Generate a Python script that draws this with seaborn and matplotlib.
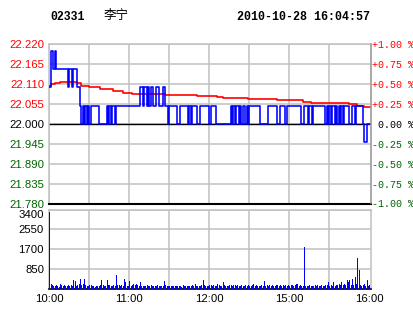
import matplotlib
matplotlib.use("Agg")
import matplotlib.pyplot as plt
import seaborn as sns
import pandas as pd

# ---------------- data ----------------
PREV_CLOSE = 22.00
title_code = "02331"
title_name = "李宁"
title_time = "2010-10-28 16:04:57"

price = [
    22.10, 22.20, 22.20, 22.15, 22.20, 22.15, 22.15, 22.15, 22.15, 22.15,
    22.15, 22.15, 22.15, 22.15, 22.10, 22.15, 22.15, 22.10, 22.15, 22.15,
    22.15, 22.10, 22.10, 22.05, 22.00, 22.05, 22.00, 22.05, 22.00, 22.05,
    22.00, 22.05, 22.05, 22.05, 22.05, 22.05, 22.05, 22.00, 22.00, 22.00,
    22.00, 22.00, 22.00, 22.05, 22.00, 22.05, 22.00, 22.05, 22.05, 22.00,
    22.05, 22.05, 22.05, 22.05, 22.05, 22.05, 22.05, 22.05, 22.05, 22.05,
    22.05, 22.05, 22.05, 22.05, 22.05, 22.05, 22.05, 22.05, 22.10, 22.10,
    22.05, 22.10, 22.10, 22.05, 22.10, 22.05, 22.10, 22.10, 22.05, 22.05,
    22.10, 22.10, 22.05, 22.05, 22.05, 22.10, 22.10, 22.05, 22.05, 22.00,
    22.05, 22.05, 22.05, 22.05, 22.05, 22.05, 22.00, 22.00, 22.05, 22.05,
    22.05, 22.05, 22.05, 22.05, 22.00, 22.05, 22.00, 22.05, 22.05, 22.05,
    22.05, 22.00, 22.00, 22.05, 22.05, 22.05, 22.05, 22.05, 22.05, 22.05,
    22.00, 22.05, 22.05, 22.05, 22.05, 22.00, 22.00, 22.00, 22.00, 22.00,
    22.00, 22.00, 22.00, 22.00, 22.00, 22.00, 22.05, 22.00, 22.05, 22.00,
    22.05, 22.05, 22.00, 22.05, 22.00, 22.05, 22.05, 22.00, 22.05, 22.00,
    22.05, 22.05, 22.05, 22.05, 22.05, 22.05, 22.05, 22.05, 22.00, 22.00,
    22.00, 22.00, 22.00, 22.00, 22.05, 22.05, 22.05, 22.05, 22.05, 22.05,
    22.05, 22.00, 22.00, 22.05, 22.05, 22.05, 22.05, 22.00, 22.05, 22.05,
    22.05, 22.05, 22.05, 22.05, 22.05, 22.05, 22.05, 22.05, 22.05, 22.00,
    22.00, 22.05, 22.05, 22.05, 22.00, 22.05, 22.05, 22.00, 22.05, 22.05,
    22.05, 22.05, 22.05, 22.05, 22.05, 22.05, 22.05, 22.00, 22.05, 22.00,
    22.05, 22.00, 22.05, 22.05, 22.00, 22.05, 22.00, 22.05, 22.00, 22.05,
    22.00, 22.05, 22.05, 22.05, 22.05, 22.00, 22.00, 22.05, 22.05, 22.00,
    22.05, 22.05, 22.05, 22.05, 22.05, 22.00, 21.95, 21.95, 22.00, 22.00,
    22.00, 22.00,
]
minutes = list(range(len(price)))

avg_minutes = [0, 1, 4, 8, 21, 24, 29.5, 38, 48, 55, 62, 87, 111, 126, 130,
               149, 171, 190, 196, 225, 231, 236, 241.5]
avg_price = [22.103, 22.109, 22.113, 22.1155, 22.113, 22.1045, 22.102, 22.097,
             22.091, 22.086, 22.0815, 22.079, 22.077, 22.074, 22.0705, 22.069,
             22.066, 22.0605, 22.058, 22.055, 22.050, 22.047, 22.047]

volume = [
    3300, 215, 170, 120, 90, 170, 100, 80, 215, 145,
    90, 170, 110, 100, 145, 120, 170, 110, 360, 330,
    120, 170, 215, 400, 170, 215, 430, 145, 115, 100,
    130, 170, 100, 115, 80, 115, 90, 115, 170, 360,
    145, 115, 90, 360, 170, 145, 115, 90, 145, 100,
    575, 145, 170, 120, 145, 100, 400, 260, 115, 90,
    315, 120, 170, 215, 145, 215, 170, 120, 290, 115,
    100, 115, 90, 145, 115, 100, 145, 115, 100, 90,
    115, 170, 100, 100, 115, 120, 315, 145, 115, 90,
    100, 100, 115, 100, 90, 115, 100, 100, 115, 80,
    145, 100, 115, 100, 90, 115, 100, 145, 90, 215,
    100, 100, 115, 90, 145, 360, 145, 100, 115, 100,
    170, 170, 115, 170, 115, 100, 215, 145, 100, 115,
    260, 170, 100, 100, 100, 145, 170, 115, 170, 145,
    115, 170, 100, 115, 145, 100, 115, 145, 90, 170,
    115, 100, 145, 215, 115, 145, 100, 115, 100, 145,
    100, 315, 115, 145, 115, 170, 115, 145, 100, 100,
    145, 170, 115, 145, 100, 145, 115, 170, 115, 145,
    100, 145, 170, 115, 145, 215, 215, 115, 145, 100,
    90, 1800, 115, 100, 100, 145, 115, 100, 115, 170,
    100, 145, 115, 100, 145, 115, 100, 170, 145, 260,
    115, 170, 100, 260, 115, 170, 145, 215, 145, 260,
    170, 215, 170, 360, 260, 360, 170, 400, 170, 500,
    215, 1300, 790, 170, 115, 145, 215, 100, 360, 115,
    145, 170,
]

time_ticks = [0, 60, 120, 180, 240]
time_labels = ["10:00", "11:00", "12:00", "15:00", "16:00"]
grid_minutes = [0, 30, 60, 90, 120, 150, 180, 210]
price_ticks = [22.220, 22.165, 22.110, 22.055, 22.000, 21.945, 21.890, 21.835, 21.780]
pct_ticks = [1.00, 0.75, 0.50, 0.25, 0.00, -0.25, -0.50, -0.75, -1.00]
vol_ticks = [850, 1700, 2550, 3400]

# ---------------- style ----------------
sns.set_theme(style="white")
plt.rcParams["font.family"] = ["Liberation Sans", "DejaVu Sans"]

RED = "#ff0000"
GREEN = "#006400"
BLUE = "#0000ff"
GRID = "#c0c0c0"

W, H = 414, 314
fig = plt.figure(figsize=(W / 100, H / 100), dpi=100)
fig.patch.set_facecolor("white")

def box(l, t, r, b):
    return [l / W, 1 - b / H, (r - l) / W, (b - t) / H]

XMAX = 241.5
ax = fig.add_axes(box(49.3, 44, 371.3, 203.5))
axv = fig.add_axes(box(49.3, 209.5, 371.3, 288.5))

# ---------------- price panel ----------------
df = pd.DataFrame({"minute": minutes, "price": price})
dfa = pd.DataFrame({"minute": avg_minutes, "avg": avg_price})

ax.set_xlim(0, XMAX)
ax.set_ylim(21.780, 22.220)
for xv in grid_minutes:
    ax.axvline(xv, color=GRID, lw=1.1, zorder=0)
for yv in price_ticks:
    ax.axhline(yv, color=GRID, lw=1.1, zorder=0)
ax.axhline(PREV_CLOSE, color="black", lw=1.0, zorder=1)

sns.lineplot(data=dfa, x="minute", y="avg", ax=ax, color=RED, lw=1.2,
             drawstyle="steps-post", zorder=3)
sns.lineplot(data=df, x="minute", y="price", ax=ax, color=BLUE, lw=1.15,
             drawstyle="steps-post", zorder=4)
ax.set_xlabel("")
ax.set_ylabel("")
ax.set_xticks([])
ax.set_yticks(price_ticks)
ax.set_yticklabels([f"{v:.3f}" for v in price_ticks], fontsize=8.2)
for lab, v in zip(ax.get_yticklabels(), price_ticks):
    lab.set_color(RED if v > PREV_CLOSE + 1e-9 else ("black" if abs(v - PREV_CLOSE) < 1e-9 else GREEN))
ax.tick_params(axis="y", length=0, pad=3.8)
for s in ["left", "top", "right"]:
    ax.spines[s].set_color(GRID)
    ax.spines[s].set_linewidth(1.1)
ax.spines["bottom"].set_color("black")
ax.spines["bottom"].set_linewidth(1.5)

ax2 = ax.twinx()
ax2.set_ylim(-1, 1)
ax2.set_yticks(pct_ticks)
ax2.set_yticklabels([("+" if v > 0 else ("-" if v < 0 else " ")) + f"{abs(v):.2f} %" for v in pct_ticks],
                    fontsize=7.2, family="Liberation Mono")
ax2.tick_params(axis="y", length=0, pad=0.3)
for lab, v in zip(ax2.get_yticklabels(), pct_ticks):
    lab.set_color(RED if v > 0 else ("black" if v == 0 else GREEN))
for s in ["left", "top", "bottom"]:
    ax2.spines[s].set_visible(False)
ax2.spines["right"].set_color("#a0a0a0")
ax2.spines["right"].set_linewidth(1.1)
ax2.grid(False)

# ---------------- volume panel ----------------
axv.set_xlim(0, XMAX)
axv.set_ylim(0, 3400)
for xv in grid_minutes:
    axv.axvline(xv, color=GRID, lw=1.1, zorder=0)
for yv in vol_ticks:
    axv.axhline(yv, color=GRID, lw=1.1, zorder=0)
axv.bar(minutes, volume, width=0.85, align="edge", color=BLUE, linewidth=0, zorder=3)
axv.set_yticks(vol_ticks)
axv.set_yticklabels([str(v) for v in vol_ticks], fontsize=8.2, color="black")
axv.get_yticklabels()[-1].set_va("top")
axv.tick_params(axis="y", length=0, pad=3.8)
axv.set_xticks(time_ticks)
axv.set_xticklabels(time_labels, fontsize=8.2, color="black")
axv.tick_params(axis="x", length=0, pad=4)
for s in ["left", "top", "right"]:
    axv.spines[s].set_color(GRID)
    axv.spines[s].set_linewidth(1.1)
axv.spines["bottom"].set_color("black")
axv.spines["bottom"].set_linewidth(1.2)
axv.grid(False)
ax.grid(False)

# ---------------- titles ----------------
fig.text(50 / W, 1 - 17 / H, title_code, fontsize=8.3, fontweight="bold",
         family="Liberation Mono", va="center", ha="left", color="black")
fig.text(104 / W, 1 - 16 / H, title_name, fontsize=9,
         family=["Noto Sans CJK SC", "DejaVu Sans"], va="center", ha="left", color="black")
fig.text(237.5 / W, 1 - 17 / H, title_time, fontsize=8.4, fontweight="bold",
         family="Liberation Mono", va="center", ha="left", color="black")

fig.savefig("out.png", dpi=100, facecolor="white")
